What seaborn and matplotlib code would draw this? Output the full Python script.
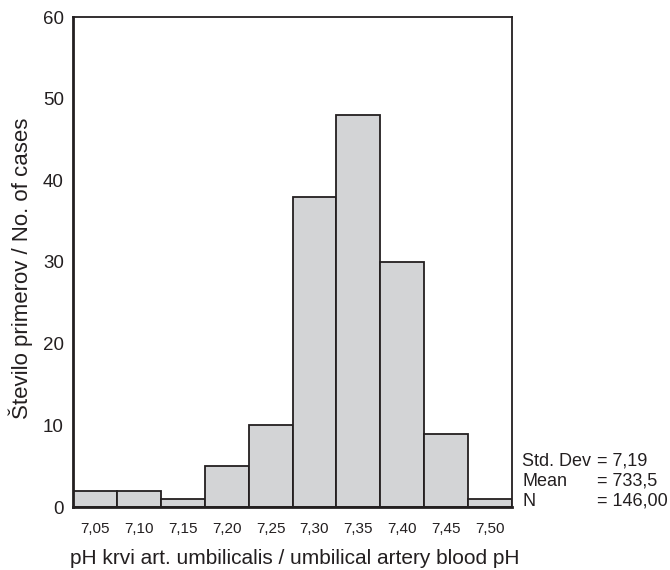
import matplotlib
matplotlib.use("Agg")
import matplotlib.pyplot as plt
import seaborn as sns
import pandas as pd

categories = ["7,05", "7,10", "7,15", "7,20", "7,25", "7,30", "7,35", "7,40", "7,45", "7,50"]
counts = [2, 2, 1, 5, 10, 38, 48, 30, 9, 1]
y_ticks = [0, 10, 20, 30, 40, 50, 60]
stats_labels = ["Std. Dev", "Mean", "N"]
stats_values = ["= 7,19", "= 733,5", "= 146,00"]

sns.set_style("white")
plt.rcParams['font.family'] = ['Liberation Sans', 'DejaVu Sans']

df = pd.DataFrame({"pH": categories, "count": counts})
TXT = "#231f20"

fig = plt.figure(figsize=(6.7, 5.7), dpi=100)
ax = fig.add_axes([73 / 670, 1 - 507 / 570, 439 / 670, 490 / 570])

sns.barplot(data=df, x="pH", y="count", ax=ax, width=1.0,
            color="#d3d4d6", edgecolor=TXT, linewidth=1.3,
            saturation=1)

ax.set_xlim(-0.5, len(categories) - 0.5)
ax.set_ylim(0, 60)
ax.set_yticks(y_ticks)
ax.set_yticklabels([str(v) for v in y_ticks], fontsize=13.5, color=TXT)
ax.set_xticks(range(len(categories)))
ax.set_xticklabels(categories, fontsize=11, color=TXT)

ax.tick_params(axis="y", direction="out", length=3.6, width=3.6, color="#111111", pad=3)
ax.tick_params(axis="x", direction="out", length=3, width=5.8, color="#111111", pad=8)

for side in ["left", "bottom"]:
    ax.spines[side].set_linewidth(2.0)
    ax.spines[side].set_color(TXT)
for side in ["top", "right"]:
    ax.spines[side].set_linewidth(1.3)
    ax.spines[side].set_color(TXT)
    ax.spines[side].set_visible(True)

ax.set_xlabel("pH krvi art. umbilicalis / umbilical artery blood pH",
              fontsize=15, color=TXT, va="center")
ax.xaxis.set_label_coords(0.506, (507 - 558) / 490)
ax.set_ylabel("Število primerov / No. of cases", fontsize=16,
              color=TXT, va="center")
ax.yaxis.set_label_coords((21 - 73) / 439, (507 - 268) / 490)

for i, (lab, val) in enumerate(zip(stats_labels, stats_values)):
    y = 461 + i * 20
    fig.text(522 / 670, 1 - y / 570, lab, fontsize=13, color=TXT, va="center")
    fig.text(597 / 670, 1 - y / 570, val, fontsize=13, color=TXT, va="center")

fig.savefig("out.png", dpi=100)
